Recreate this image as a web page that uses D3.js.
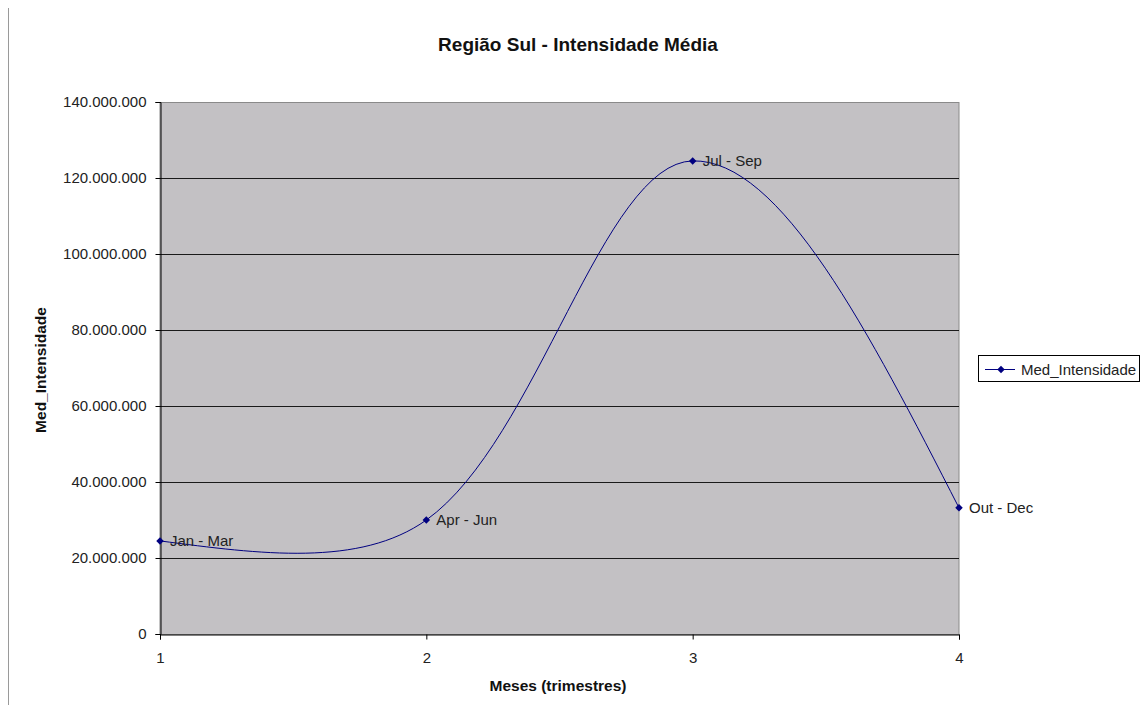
<!DOCTYPE html>
<html><head><meta charset="utf-8">
<script src="https://cdn.jsdelivr.net/npm/d3@7"></script>
<style>body{margin:0;background:#fff;}svg{display:block;font-family:Arial,"Liberation Sans",sans-serif;}</style>
</head><body>
<svg id="c" width="1145" height="707"></svg>
<script>
const quarters = [1, 2, 3, 4];
const pointLabels = ["Jan - Mar", "Apr - Jun", "Jul - Sep", "Out - Dec"];
const medIntensidade = [24500000, 30000000, 124500000, 33200000];
const yTicks = [0, 20000000, 40000000, 60000000, 80000000, 100000000, 120000000, 140000000];
const xTicks = [1, 2, 3, 4];
const seriesName = "Med_Intensidade";

const FF = "Arial, 'Liberation Sans', sans-serif";
const svg = d3.select("#c");
const L = 160, R = 959, T = 102, B = 634;
const x = d3.scaleLinear().domain([1, 4]).range([L, R]);
const y = d3.scaleLinear().domain([0, 140000000]).range([B, T]);
const fmt = v => d3.format(",")(v).replace(/,/g, ".");

// chart area left border
svg.append("line").attr("x1", 8.5).attr("x2", 8.5).attr("y1", 8).attr("y2", 705).attr("stroke", "#9a9a9a");

// plot area
svg.append("rect").attr("x", L).attr("y", T + 0.5).attr("width", R - L).attr("height", B - T)
  .attr("fill", "#c3c1c4").attr("stroke", "#8a8a8a").attr("stroke-width", 1);

// grid
svg.append("g").selectAll("line").data(yTicks.filter(d => d > 0 && d < 140000000)).join("line")
  .attr("x1", L).attr("x2", R).attr("y1", d => Math.round(y(d)) + 0.5).attr("y2", d => Math.round(y(d)) + 0.5)
  .attr("stroke", "#1a1a1a").attr("stroke-width", 1);

// y axis
const ya = svg.append("g").attr("transform", `translate(${L + 0.5},0)`)
  .call(d3.axisLeft(y).tickValues(yTicks).tickFormat(fmt).tickSize(5).tickPadding(9));
ya.select(".domain").attr("stroke", "#000");
ya.selectAll("text").attr("font-size", 15).attr("fill", "#222").attr("font-family", FF);

// x axis
const xa = svg.append("g").attr("transform", `translate(0,${B + 0.5})`)
  .call(d3.axisBottom(x).tickValues(xTicks).tickFormat(d3.format("d")).tickSize(5).tickPadding(13));
xa.select(".domain").attr("stroke", "#000");
xa.selectAll("text").attr("font-size", 15).attr("fill", "#222").attr("font-family", FF);

// smoothed line (Excel-like Bezier smoothing with length-weighted tangents)
const pts = quarters.map((q, i) => [x(q), y(medIntensidade[i])]);
const dist = (a, b) => Math.hypot(b[0] - a[0], b[1] - a[1]);
const n = pts.length;
const cin = [], cout = [];
for (let i = 1; i < n - 1; i++) {
  const p = pts[i - 1], c = pts[i], nx = pts[i + 1];
  const d1 = dist(p, c), d2 = dist(c, nx), s = d1 + d2;
  const tx = nx[0] - p[0], ty = nx[1] - p[1];
  cin[i] = [c[0] - tx * d1 / s / 3, c[1] - ty * d1 / s / 3];
  cout[i] = [c[0] + tx * d2 / s / 3, c[1] + ty * d2 / s / 3];
}
cout[0] = [pts[0][0] + (cin[1][0] - pts[0][0]) / 2, pts[0][1] + (cin[1][1] - pts[0][1]) / 2];
cin[n - 1] = [pts[n - 1][0] + (cout[n - 2][0] - pts[n - 1][0]) / 2, pts[n - 1][1] + (cout[n - 2][1] - pts[n - 1][1]) / 2];
const pth = d3.path();
pth.moveTo(pts[0][0], pts[0][1]);
for (let i = 0; i < n - 1; i++) {
  pth.bezierCurveTo(cout[i][0], cout[i][1], cin[i + 1][0], cin[i + 1][1], pts[i + 1][0], pts[i + 1][1]);
}
svg.append("path").attr("d", pth.toString())
  .attr("fill", "none").attr("stroke", "#000080").attr("stroke-width", 1);

// markers
svg.append("g").selectAll("path").data(pts).join("path")
  .attr("d", d3.symbol().type(d3.symbolSquare).size(28))
  .attr("transform", d => `translate(${d[0]},${d[1]}) rotate(45)`)
  .attr("fill", "#000080");

// point labels
svg.append("g").selectAll("text").data(pointLabels).join("text")
  .attr("x", (d, i) => pts[i][0] + 10).attr("y", (d, i) => pts[i][1] + 5)
  .attr("font-size", 15).attr("fill", "#222").text(d => d);

// title
svg.append("text").attr("x", 578).attr("y", 51).attr("text-anchor", "middle")
  .attr("font-size", 19).attr("font-weight", "bold").attr("fill", "#111").text("Região Sul - Intensidade Média");
// axis titles
svg.append("text").attr("transform", "translate(45.5,370) rotate(-90)").attr("text-anchor", "middle")
  .attr("font-size", 15.5).attr("font-weight", "bold").attr("fill", "#111").text("Med_Intensidade");
svg.append("text").attr("x", 558).attr("y", 691).attr("text-anchor", "middle")
  .attr("font-size", 15.5).attr("font-weight", "bold").attr("fill", "#111").text("Meses (trimestres)");

// legend
const lg = svg.append("g");
lg.append("rect").attr("x", 978.5).attr("y", 355.5).attr("width", 161).attr("height", 26)
  .attr("fill", "#fff").attr("stroke", "#000");
lg.append("line").attr("x1", 985).attr("x2", 1015).attr("y1", 369.5).attr("y2", 369.5).attr("stroke", "#000080");
lg.append("path").attr("transform", "translate(1001,369.5) rotate(45)")
  .attr("d", d3.symbol().type(d3.symbolSquare).size(28)).attr("fill", "#000080");
lg.append("text").attr("x", 1021).attr("y", 375).attr("font-size", 15).attr("fill", "#222").text(seriesName);
</script>
</body></html>
